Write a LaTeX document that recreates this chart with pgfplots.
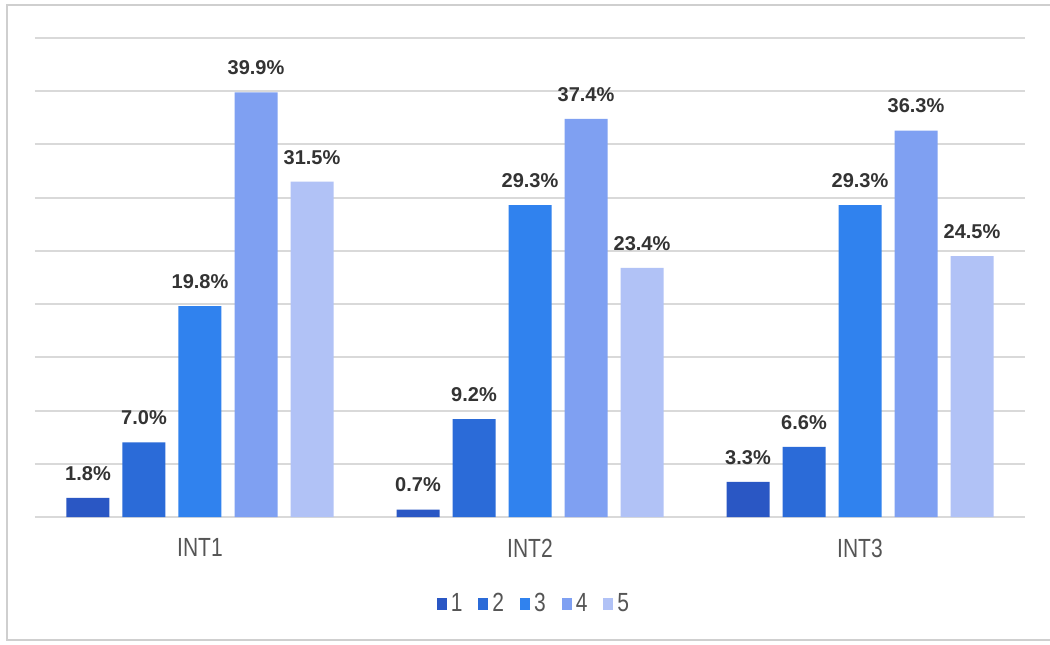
\documentclass[border=0pt]{standalone}
\usepackage{pgfplots}
\pgfplotsset{compat=1.18}
\usepackage{fontspec}
\setmainfont{Liberation Sans}

\definecolor{c1}{HTML}{2A57C4}
\definecolor{c2}{HTML}{2B6BD8}
\definecolor{c3}{HTML}{3082EE}
\definecolor{c4}{HTML}{7FA0F2}
\definecolor{c5}{HTML}{B1C2F6}
\definecolor{gridc}{HTML}{D9D9D9}
\definecolor{framec}{HTML}{CFCFCF}
\definecolor{labc}{HTML}{333333}
\definecolor{catc}{HTML}{555555}

% legend key: small filled square
\pgfplotsset{sq/.style={legend image code/.code={\fill[##1] (0pt,-3pt) rectangle (5pt,3pt);}}}
\newcommand{\tall}[1]{\scalebox{1}[1.25]{#1}}

\begin{document}
\begin{tikzpicture}
\useasboundingbox (0pt,0pt) rectangle (525pt,322pt);
\fill[white] (0pt,0pt) rectangle (525pt,322pt);
\draw[framec, line width=1pt] (525pt,319.5pt) -- (3.5pt,319.5pt) -- (3.5pt,2pt) -- (525pt,2pt);
\begin{axis}[
  at={(17.5pt,63.5pt)}, anchor=south west,
  scale only axis, width=495pt, height=239.5pt,
  xmin=-0.5, xmax=2.5, ymin=0, ymax=45,
  ybar=6.5pt, bar width=21.5pt,
  axis line style={draw=none},
  tick style={draw=none},
  ytick={0,5,...,45}, yticklabels={},
  ymajorgrids, major grid style={gridc, line width=1pt},
  xtick={0,1,2}, xticklabels={\tall{INT1},\tall{INT2},\tall{INT3}},
  xticklabel style={font=\fontsize{10.5}{12}\selectfont, text=catc, anchor=north, inner sep=0pt, yshift=-6.5pt},
  clip=false,
  nodes near coords={\pgfmathprintnumber[fixed,fixed zerofill,precision=1,assume math mode=true]{\pgfplotspointmeta}\%},
  nodes near coords style={font=\bfseries\fontsize{10}{12}\selectfont, text=labc, anchor=south, inner sep=0pt, yshift=8.5pt},
  legend style={at={(0.505,-0.182)}, anchor=center, draw=none, fill=none,
    font=\fontsize{10.5}{12}\selectfont, text=catc,
    /tikz/every even column/.append style={column sep=6pt}},
  legend columns=-1,
]
\addplot[fill=c1, draw=none, sq] coordinates {(0,1.8) (1,0.7) (2,3.3)};
\addplot[fill=c2, draw=none, sq] coordinates {(0,7.0) (1,9.2) (2,6.6)};
\addplot[fill=c3, draw=none, sq] coordinates {(0,19.8) (1,29.3) (2,29.3)};
\addplot[fill=c4, draw=none, sq] coordinates {(0,39.9) (1,37.4) (2,36.3)};
\addplot[fill=c5, draw=none, sq] coordinates {(0,31.5) (1,23.4) (2,24.5)};
\legend{\tall{1},\tall{2},\tall{3},\tall{4},\tall{5}}
\end{axis}
\end{tikzpicture}
\end{document}
